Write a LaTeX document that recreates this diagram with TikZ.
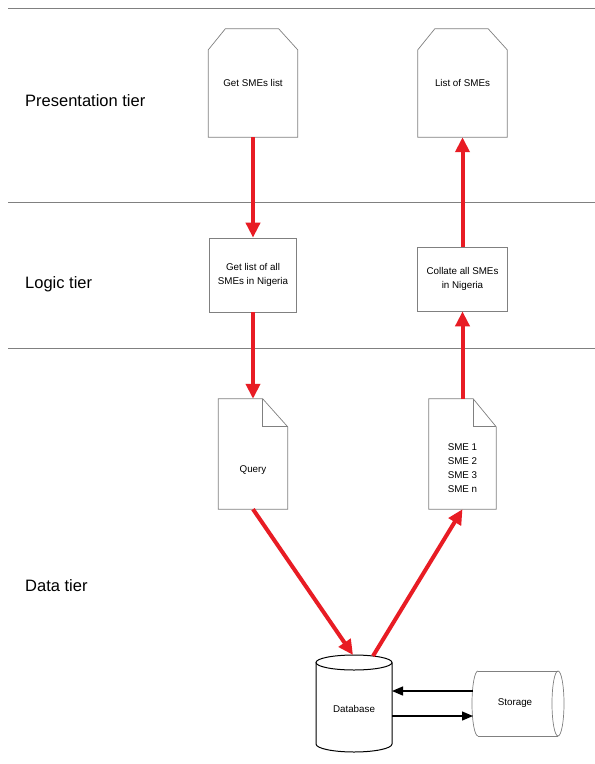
\documentclass[tikz,border=0pt]{standalone}
\usepackage{fontspec}
\setmainfont{Liberation Sans}
\usetikzlibrary{arrows.meta,calc}
\definecolor{arrred}{RGB}{232,28,36}
\definecolor{edgegray}{RGB}{128,128,128}
\begin{document}
\begin{tikzpicture}[x=1pt,y=-1pt,
  tierline/.style={draw=edgegray, line width=0.8pt},
  tierlabel/.style={font=\fontsize{16.5}{19}\selectfont, anchor=west, inner sep=0pt},
  boxtext/.style={font=\fontsize{9.8}{14}\selectfont, align=center, inner sep=0pt},
  area/.style={draw=none, inner sep=0pt, font=\fontsize{9.8}{14}\selectfont, align=center},
  shapeline/.style={draw=edgegray, line width=0.7pt},
  plainbox/.style={draw=edgegray, line width=0.7pt, inner sep=0pt, font=\fontsize{9.8}{14}\selectfont, align=center},
  redarrow/.style={draw=arrred, line width=4pt, -{Triangle[width=14pt,length=15pt]}},
  blackarrow/.style={draw=black, line width=1.3pt, -{Triangle[width=9pt,length=11pt]}}
]
\useasboundingbox (0,0) rectangle (595,764);
\fill[white] (0,0) rectangle (595,764);

% tier separators
\draw[tierline] (8,8) -- (595,8);
\draw[tierline] (8,202) -- (595,202);
\draw[tierline] (8,348) -- (595,348);

% tier labels
\node[tierlabel] (t1) at (25,101) {Presentation tier};
\node[tierlabel] (t2) at (25,284) {Logic tier};
\node[tierlabel] (t3) at (25,586) {Data tier};

% presentation shapes
\node[area, minimum width=89pt, minimum height=108pt] (p1) at (253,83) {Get SMEs list};
\draw[shapeline] (p1.south west) -- ($(p1.north west)+(0,21)$) -- ($(p1.north west)+(17,0)$)
  -- ($(p1.north east)+(-19,0)$) -- ($(p1.north east)+(0,21)$) -- (p1.south east) -- cycle;
\node[area, minimum width=89pt, minimum height=108pt] (p2) at (462.5,83) {List of SMEs};
\draw[shapeline] (p2.south west) -- ($(p2.north west)+(0,21)$) -- ($(p2.north west)+(17,0)$)
  -- ($(p2.north east)+(-19,0)$) -- ($(p2.north east)+(0,21)$) -- (p2.south east) -- cycle;

% logic boxes
\node[plainbox, minimum width=87pt, minimum height=74pt] (l1) at (253,275) {Get list of all\\SMEs in Nigeria};
\node[plainbox, minimum width=90pt, minimum height=64pt] (l2) at (462.5,279) {Collate all SMEs\\in Nigeria};

% documents
\node[area, minimum width=69pt, minimum height=110pt] (q) at (253,454) {};
\draw[shapeline] (q.south west) -- (q.north west) -- ($(q.north east)+(-25,0)$) -- ($(q.north east)+(0,28)$) -- (q.south east) -- cycle;
\draw[shapeline] ($(q.north east)+(-25,0)$) -- ($(q.north east)+(-25,28)$) -- ($(q.north east)+(0,28)$);
\node[boxtext] (qt) at ($(q.center)+(0,16)$) {Query};

\node[area, minimum width=67pt, minimum height=110pt] (s) at (462.5,454) {};
\draw[shapeline] (s.south west) -- (s.north west) -- ($(s.north east)+(-23,0)$) -- ($(s.north east)+(0,28)$) -- (s.south east) -- cycle;
\draw[shapeline] ($(s.north east)+(-23,0)$) -- ($(s.north east)+(-23,28)$) -- ($(s.north east)+(0,28)$);
\node[boxtext] (stx) at ($(s.center)+(0,14)$) {SME 1\\SME 2\\SME 3\\SME n};

% database cylinder
\draw[black, line width=1pt, fill=white] (316,662.5) -- (316,744) arc[start angle=180, end angle=0, x radius=38, y radius=8] -- (392,662.5);
\draw[black, line width=1pt] (354,662.5) ellipse [x radius=38, y radius=7.5];
\node[area] (db) at (354,709) {Database};
\coordinate (dbin) at (353,655);
\coordinate (dbout) at (373,656);
\coordinate (dbr1) at (392,691);
\coordinate (dbr2) at (392,716);

% storage cylinder
\draw[shapeline] (478,671) -- (558,671);
\draw[shapeline] (478,736) -- (558,736);
\draw[shapeline] (478,671) arc[start angle=270, end angle=90, x radius=6, y radius=32.5];
\draw[shapeline] (558,703.5) ellipse [x radius=6, y radius=32.5];
\node[area] (stor) at (515,703) {Storage};
\coordinate (sl1) at (473,691);
\coordinate (sl2) at (473,716);

% red flow arrows
\draw[redarrow] (p1.south) -- (l1.north);
\draw[redarrow] (l1.south) -- (q.north);
\draw[redarrow] (q.south) -- (dbin);
\draw[redarrow] (dbout) -- (s.south);
\draw[redarrow] (s.north) -- (l2.south);
\draw[redarrow] (l2.north) -- (p2.south);

% black arrows
\draw[blackarrow] (sl1) -- (dbr1);
\draw[blackarrow] (dbr2) -- (sl2);
\end{tikzpicture}
\end{document}
